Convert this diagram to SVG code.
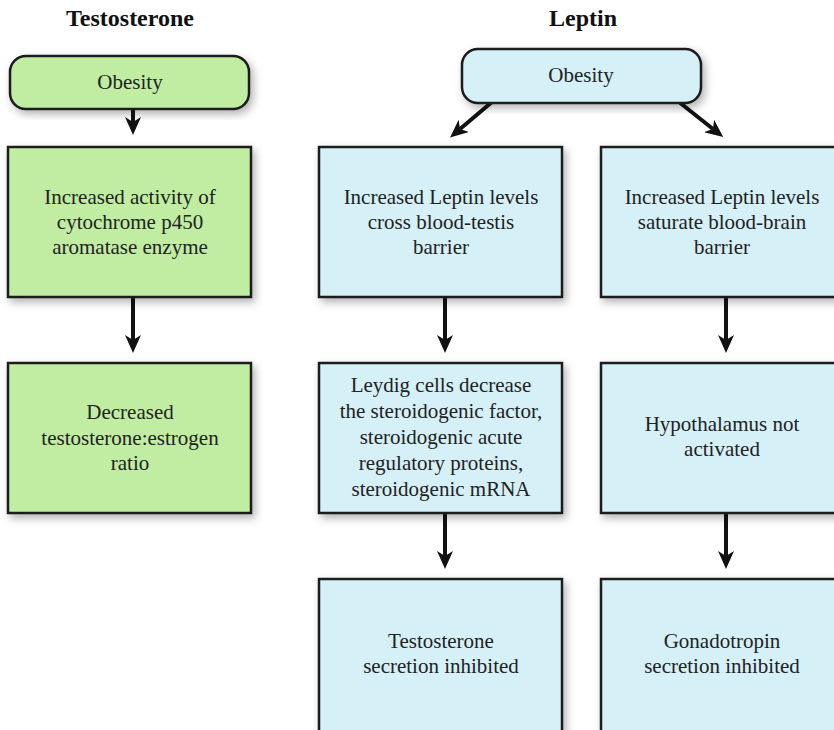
<svg xmlns="http://www.w3.org/2000/svg" width="834" height="730" viewBox="0 0 834 730">
  <defs>
    <filter id="shadow" x="-10%" y="-10%" width="130%" height="130%">
      <feDropShadow dx="3" dy="4" stdDeviation="4" flood-color="#000" flood-opacity="0.3"/>
    </filter>
    <marker id="arrow" viewBox="0 0 18 16" markerWidth="18" markerHeight="16" markerUnits="userSpaceOnUse" refX="5" refY="8" orient="auto">
      <path d="M0,0 L18,8 L0,16 L5,8 z" fill="#111"/>
    </marker>
  </defs>
  <style>
    .title { font-family: "Liberation Serif", "Times New Roman", serif; font-size: 24px; font-weight: bold; fill: #111; text-anchor: middle; }
    .label { font-family: "Liberation Serif", "Times New Roman", serif; font-size: 21px; fill: #222; text-anchor: middle; }
    .green { fill: #C0EDA2; stroke: #1a1a1a; stroke-width: 2.5; filter: url(#shadow); }
    .blue { fill: #D5F0F7; stroke: #1a1a1a; stroke-width: 2.5; filter: url(#shadow); }
    .conn { stroke: #111; stroke-width: 4; fill: none; marker-end: url(#arrow); }
  </style>

  <rect width="834" height="730" fill="#fff"/>

  <text class="title" x="130" y="26">Testosterone</text>
  <text class="title" x="583" y="26">Leptin</text>

  <g id="connectors">
    <line class="conn" x1="133" y1="109" x2="133" y2="122"/>
    <line class="conn" x1="133" y1="297" x2="133" y2="340"/>
    <line class="conn" x1="492" y1="102" x2="460" y2="129"/>
    <line class="conn" x1="679" y1="102" x2="713" y2="129"/>
    <line class="conn" x1="445" y1="297" x2="445" y2="340"/>
    <line class="conn" x1="445" y1="513" x2="445" y2="556"/>
    <line class="conn" x1="726" y1="297" x2="726" y2="340"/>
    <line class="conn" x1="726" y1="513" x2="726" y2="556"/>
  </g>

  <!-- Testosterone pathway -->
  <g id="t-obesity">
    <rect class="green" x="10" y="56" width="239" height="53" rx="16"/>
    <text class="label" x="130" y="89">Obesity</text>
  </g>
  <g id="t-aromatase">
    <rect class="green" x="8" y="147" width="243" height="150"/>
    <text class="label" x="130" y="204">Increased activity of</text>
    <text class="label" x="130" y="229">cytochrome p450</text>
    <text class="label" x="130" y="254">aromatase enzyme</text>
  </g>
  <g id="t-ratio">
    <rect class="green" x="8" y="363" width="243" height="150"/>
    <text class="label" x="130" y="419">Decreased</text>
    <text class="label" x="130" y="445">testosterone:estrogen</text>
    <text class="label" x="130" y="470">ratio</text>
  </g>

  <!-- Leptin pathway -->
  <g id="l-obesity">
    <rect class="blue" x="462" y="49" width="239" height="54" rx="16"/>
    <text class="label" x="581" y="82">Obesity</text>
  </g>
  <g id="l-testis">
    <rect class="blue" x="319" y="147" width="243" height="150"/>
    <text class="label" x="441" y="204">Increased Leptin levels</text>
    <text class="label" x="441" y="229">cross blood-testis</text>
    <text class="label" x="441" y="254">barrier</text>
  </g>
  <g id="l-brain">
    <rect class="blue" x="601" y="147" width="243" height="150"/>
    <text class="label" x="722" y="204">Increased Leptin levels</text>
    <text class="label" x="722" y="229">saturate blood-brain</text>
    <text class="label" x="722" y="254">barrier</text>
  </g>
  <g id="l-leydig">
    <rect class="blue" x="319" y="363" width="243" height="150"/>
    <text class="label" x="441" y="392">Leydig cells decrease</text>
    <text class="label" x="441" y="418">the steroidogenic factor,</text>
    <text class="label" x="441" y="444">steroidogenic acute</text>
    <text class="label" x="441" y="470">regulatory proteins,</text>
    <text class="label" x="441" y="496">steroidogenic mRNA</text>
  </g>
  <g id="l-hypothalamus">
    <rect class="blue" x="601" y="363" width="243" height="150"/>
    <text class="label" x="722" y="431">Hypothalamus not</text>
    <text class="label" x="722" y="456">activated</text>
  </g>
  <g id="l-testosterone">
    <rect class="blue" x="319" y="579" width="243" height="160"/>
    <text class="label" x="441" y="648">Testosterone</text>
    <text class="label" x="441" y="673">secretion inhibited</text>
  </g>
  <g id="l-gonadotropin">
    <rect class="blue" x="601" y="579" width="243" height="160"/>
    <text class="label" x="722" y="648">Gonadotropin</text>
    <text class="label" x="722" y="673">secretion inhibited</text>
  </g>
</svg>
